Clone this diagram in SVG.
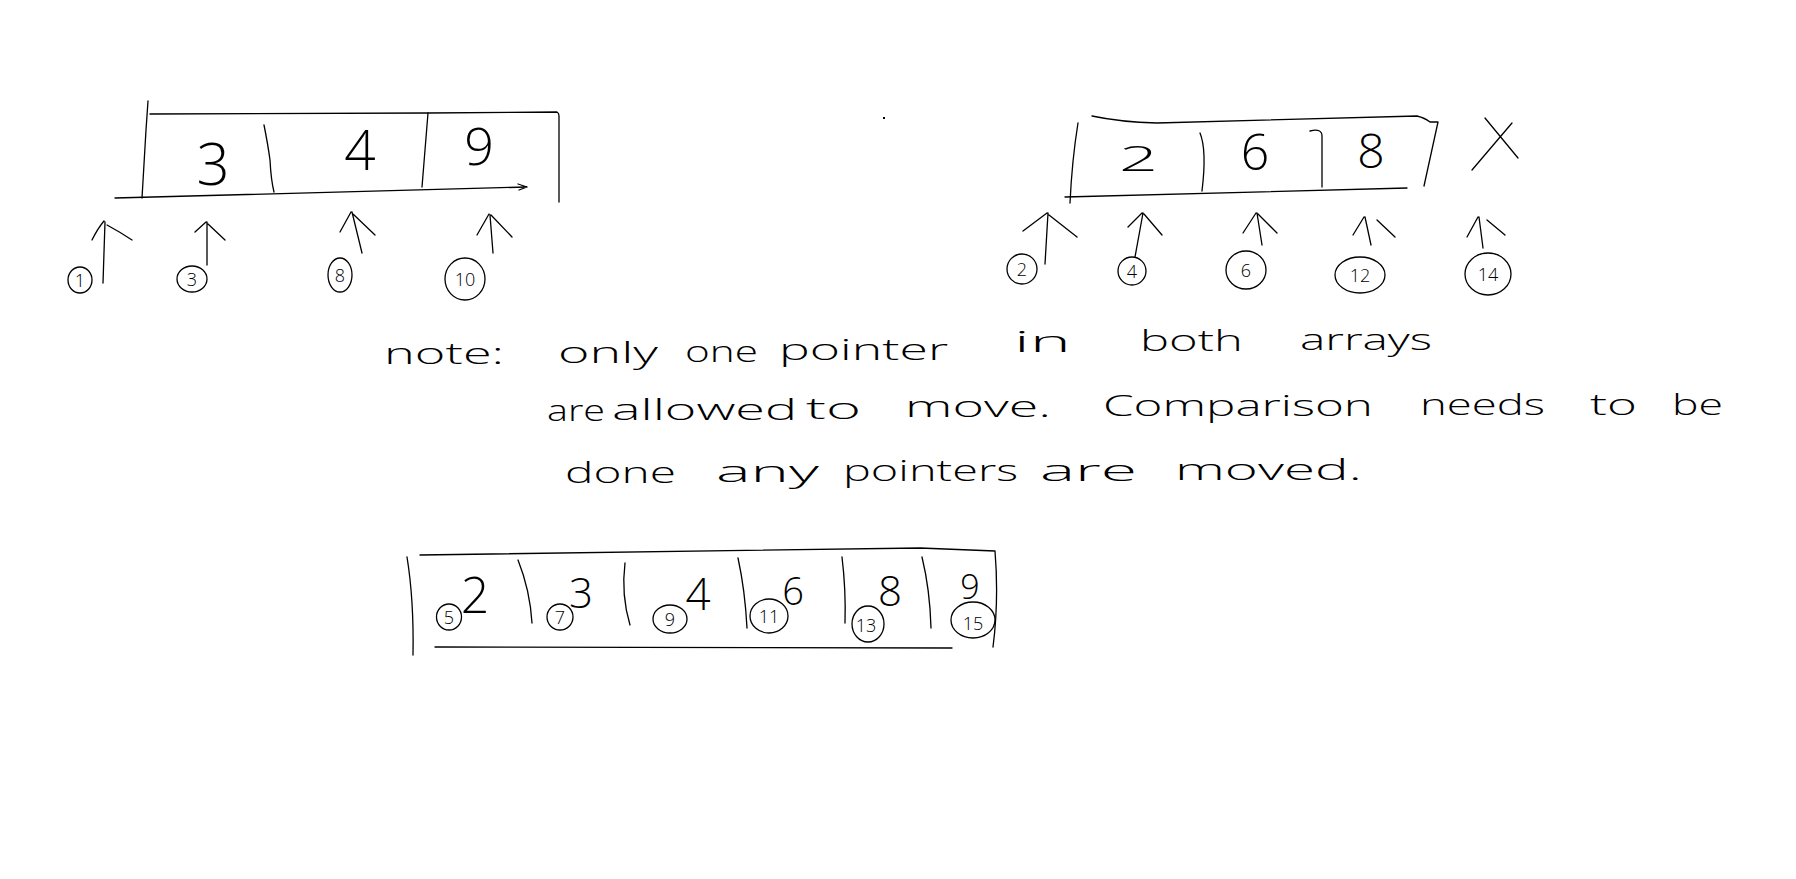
<svg xmlns="http://www.w3.org/2000/svg" width="1796" height="879" viewBox="0 0 1796 879">
<style>
.ln{fill:none;stroke:#000;stroke-width:1.3;stroke-linecap:round;stroke-linejoin:round}
.hw{font-family:"Open Sans","Liberation Sans",sans-serif;font-weight:300;fill:#000}
.num{text-anchor:middle}
.lbl{font-size:18px;text-anchor:middle}
.note{font-size:30px}
</style>
<rect width="1796" height="879" fill="#fff"/>
<rect x="883" y="117" width="2" height="2" fill="#000"/>

<g id="array1">
<path class="ln" d="M148,101 L146,130 L142,198"/>
<path class="ln" d="M150,114 L428,113 L557,112 Q559,113 559,116 L559,202"/>
<path class="ln" d="M115,198 L527,187 M518,184 L527,187 L519,190"/>
<path class="ln" d="M264,125 Q268,145 270,160 Q271,180 274,192"/>
<path class="ln" d="M428,113 L422,187"/>
<text class="hw num" x="213" y="185" font-size="58">3</text>
<text class="hw num" x="360" y="170" font-size="55">4</text>
<text class="hw num" x="479" y="165" font-size="52">9</text>
</g>

<g id="array2">
<path class="ln" d="M1078,123 Q1072,160 1070,203"/>
<path class="ln" d="M1092,116 Q1120,122 1157,123 L1417,116 Q1425,118 1430,122 L1438,122 L1424,186"/>
<path class="ln" d="M1065,197 L1407,188"/>
<path class="ln" d="M1200,133 Q1207,150 1202,191"/>
<path class="ln" d="M1310,131 Q1322,128 1322,136 L1322,187"/>
<text class="hw" x="1119" y="171" font-size="35" textLength="39" lengthAdjust="spacingAndGlyphs">2</text>
<text class="hw num" x="1255" y="170" font-size="50">6</text>
<text class="hw num" x="1371" y="168" font-size="48">8</text>
<path class="ln" d="M1485,118 L1518,158 M1512,123 L1472,170"/>
</g>

<g id="pointer-1"><ellipse class="ln" cx="80" cy="280" rx="12" ry="13"/><text class="hw lbl" x="80" y="287">1</text></g>
<g id="pointer-3"><ellipse class="ln" cx="192" cy="279" rx="15" ry="13"/><text class="hw lbl" x="192" y="286">3</text></g>
<g id="pointer-8"><ellipse class="ln" cx="340" cy="275" rx="12" ry="17"/><text class="hw lbl" x="340" y="282">8</text></g>
<g id="pointer-10"><ellipse class="ln" cx="465" cy="279" rx="20" ry="21"/><text class="hw lbl" x="465" y="286">10</text></g>

<g id="pointer-2"><ellipse class="ln" cx="1022" cy="269" rx="15" ry="15"/><text class="hw lbl" x="1022" y="276">2</text></g>
<g id="pointer-4"><ellipse class="ln" cx="1132" cy="271" rx="14" ry="14"/><text class="hw lbl" x="1132" y="278">4</text></g>
<g id="pointer-6"><ellipse class="ln" cx="1246" cy="270" rx="20" ry="19"/><text class="hw lbl" x="1246" y="277">6</text></g>
<g id="pointer-12"><ellipse class="ln" cx="1360" cy="275" rx="25" ry="18"/><text class="hw lbl" x="1360" y="282">12</text></g>
<g id="pointer-14"><ellipse class="ln" cx="1488" cy="274" rx="23" ry="21"/><text class="hw lbl" x="1488" y="281">14</text></g>

<g id="connectors">
<path class="ln" d="M103,283 L105,222 M92,240 Q98,228 104,221 M107,225 Q120,232 132,240"/>
<path class="ln" d="M207,265 L207,222 M195,232 L206,222 M208,224 L225,240"/>
<path class="ln" d="M362,253 L352,212 M340,232 L351,212 M353,214 L375,235"/>
<path class="ln" d="M493,253 L490,215 M477,235 L489,214 M491,215 L512,237"/>
<path class="ln" d="M1045,264 L1048,213 M1023,231 L1047,213 M1049,215 L1077,237"/>
<path class="ln" d="M1135,257 L1143,213 M1128,227 L1142,213 M1144,214 L1162,235"/>
<path class="ln" d="M1262,245 L1257,213 M1243,233 L1256,213 M1258,214 L1277,233"/>
<path class="ln" d="M1371,245 L1365,217 M1353,235 L1364,217 M1377,220 L1395,237"/>
<path class="ln" d="M1483,248 L1479,217 M1467,237 L1478,217 M1487,220 L1505,235"/>
</g>

<g id="note">
<text class="hw note" x="384" y="364" textLength="120" lengthAdjust="spacingAndGlyphs">note:</text>
<text class="hw note" x="558" y="363" textLength="100" lengthAdjust="spacingAndGlyphs">only</text>
<text class="hw note" x="685" y="362" textLength="73" lengthAdjust="spacingAndGlyphs">one</text>
<text class="hw note" x="779" y="360" textLength="169" lengthAdjust="spacingAndGlyphs">pointer</text>
<text class="hw note" x="1014" y="352" textLength="57" lengthAdjust="spacingAndGlyphs">in</text>
<text class="hw note" x="1140" y="351" textLength="103" lengthAdjust="spacingAndGlyphs">both</text>
<text class="hw note" x="1300" y="350" textLength="132" lengthAdjust="spacingAndGlyphs">arrays</text>
<text class="hw note" x="547" y="421" textLength="58" lengthAdjust="spacingAndGlyphs">are</text>
<text class="hw note" x="612" y="420" textLength="185" lengthAdjust="spacingAndGlyphs">allowed</text>
<text class="hw note" x="806" y="419" textLength="55" lengthAdjust="spacingAndGlyphs">to</text>
<text class="hw note" x="905" y="417" textLength="146" lengthAdjust="spacingAndGlyphs">move.</text>
<text class="hw note" x="1103" y="416" textLength="270" lengthAdjust="spacingAndGlyphs">Comparison</text>
<text class="hw note" x="1420" y="415" textLength="125" lengthAdjust="spacingAndGlyphs">needs</text>
<text class="hw note" x="1590" y="415" textLength="47" lengthAdjust="spacingAndGlyphs">to</text>
<text class="hw note" x="1672" y="415" textLength="51" lengthAdjust="spacingAndGlyphs">be</text>
<text class="hw note" x="565" y="483" textLength="111" lengthAdjust="spacingAndGlyphs">done</text>
<text class="hw note" x="716" y="482" textLength="103" lengthAdjust="spacingAndGlyphs">any</text>
<text class="hw note" x="843" y="481" textLength="175" lengthAdjust="spacingAndGlyphs">pointers</text>
<text class="hw note" x="1040" y="481" textLength="97" lengthAdjust="spacingAndGlyphs">are</text>
<text class="hw note" x="1175" y="480" textLength="187" lengthAdjust="spacingAndGlyphs">moved.</text>
</g>

<g id="merged-array">
<path class="ln" d="M407,557 Q414,600 413,655"/>
<path class="ln" d="M420,555 L920,548 L995,551 Q999,600 993,647"/>
<path class="ln" d="M435,647 L952,648"/>
<path class="ln" d="M518,560 Q530,590 532,623"/>
<path class="ln" d="M625,563 Q621,595 630,625"/>
<path class="ln" d="M738,558 Q745,590 747,628"/>
<path class="ln" d="M842,557 Q846,590 845,623"/>
<path class="ln" d="M922,557 Q930,590 931,628"/>
<text class="hw num" x="475" y="613" font-size="50">2</text>
<text class="hw num" x="581" y="608" font-size="42">3</text>
<text class="hw num" x="698" y="610" font-size="44">4</text>
<text class="hw num" x="793" y="605" font-size="38">6</text>
<text class="hw num" x="890" y="606" font-size="42">8</text>
<text class="hw num" x="970" y="599" font-size="34">9</text>
</g>
<g id="step-5"><ellipse class="ln" cx="449" cy="617" rx="12.5" ry="13"/><text class="hw lbl" x="449" y="624">5</text></g>
<g id="step-7"><ellipse class="ln" cx="560" cy="617" rx="13" ry="13"/><text class="hw lbl" x="560" y="624">7</text></g>
<g id="step-9"><ellipse class="ln" cx="670" cy="619" rx="17" ry="14"/><text class="hw lbl" x="670" y="626">9</text></g>
<g id="step-11"><ellipse class="ln" cx="769" cy="616" rx="19" ry="17"/><text class="hw lbl" x="769" y="623">11</text></g>
<g id="step-13"><ellipse class="ln" cx="868" cy="624" rx="16" ry="18"/><text class="hw lbl" x="866" y="632">13</text></g>
<g id="step-15"><ellipse class="ln" cx="973" cy="620" rx="22" ry="18"/><text class="hw lbl" x="973" y="630">15</text></g>
</svg>
